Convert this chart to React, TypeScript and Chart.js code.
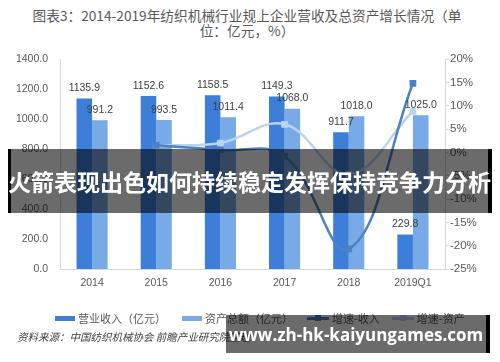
import React, { useEffect, useRef } from "react";
import { Chart, registerables } from "chart.js";

Chart.register(...registerables);

const categories = ["2014", "2015", "2016", "2017", "2018", "2019Q1"];
const revenue = [1135.9, 1152.6, 1158.5, 1149.3, 911.7, 229.8];
const assets = [991.2, 993.5, 1011.4, 1068.0, 1018.0, 1025.0];
const revenueGrowth = [null, 1.5, 0.5, -0.8, -20.7, 14.8];
const assetGrowth = [null, 1.5, 2.0, 6.0, -4.7, 8.8];

const leftMin = 0;
const leftMax = 1400;
const leftStep = 200;
const rightMin = -25;
const rightMax = 20;
const rightStep = 5;

const seriesNames = ["营业收入（亿元）", "资产总额（亿元）", "增速-收入", "增速-资产"];
const titleLines = ["图表3：2014-2019年纺织机械行业规上企业营收及总资产增长情况（单", "位：亿元，%）"];
const sourceText = "资料来源：中国纺织机械协会 前瞻产业研究院整理";
const bannerText = "火箭表现出色如何持续稳定发挥保持竞争力分析";
const urlText = "www.zh-hk-kaiyungames.com";

const C_REV = "#3d7ed9";
const C_AST = "#79aae8";
const C_REVG = "#4f81c2";
const C_ASTG = "#b9d3f1";

const NUM_FONT = '"Liberation Sans", "Noto Sans CJK SC", sans-serif';
const CJK_FONT = '"Noto Sans CJK SC", sans-serif';

const barLabels = {
  id: "barLabels",
  afterDatasetsDraw(chart: any) {
    const ctx = chart.ctx;
    chart.data.datasets.forEach((ds: any, i: number) => {
      const meta = chart.getDatasetMeta(i);
      if (meta.type !== "bar") return;
      meta.data.forEach((el: any, j: number) => {
        const v = ds.data[j];
        if (v == null) return;
        ctx.save();
        ctx.font = `10.5px ${NUM_FONT}`;
        ctx.fillStyle = "#404040";
        ctx.textAlign = "center";
        ctx.textBaseline = "bottom";
        ctx.fillText(Number(v).toFixed(1), el.x, el.y - 5);
        ctx.restore();
      });
    });
  },
};

function App() {
  const ref = useRef<HTMLCanvasElement | null>(null);

  useEffect(() => {
    if (!ref.current) return;
    const chart = new Chart(ref.current, {
      type: "bar",
      data: {
        labels: categories,
        datasets: [
          {
            type: "line",
            label: seriesNames[2],
            data: revenueGrowth,
            yAxisID: "y1",
            borderColor: C_REVG,
            backgroundColor: C_REVG,
            borderWidth: 2.5,
            pointStyle: "rect",
            pointRadius: 3,
            tension: 0.4,
            order: 1,
          } as any,
          {
            type: "line",
            label: seriesNames[3],
            data: assetGrowth,
            yAxisID: "y1",
            borderColor: C_ASTG,
            backgroundColor: C_ASTG,
            borderWidth: 2.5,
            pointStyle: "rect",
            pointRadius: 3,
            tension: 0.4,
            order: 1,
          } as any,
          {
            type: "bar",
            label: seriesNames[0],
            data: revenue,
            yAxisID: "y",
            backgroundColor: C_REV,
            barPercentage: 1.0,
            categoryPercentage: 0.485,
            order: 2,
          },
          {
            type: "bar",
            label: seriesNames[1],
            data: assets,
            yAxisID: "y",
            backgroundColor: C_AST,
            barPercentage: 1.0,
            categoryPercentage: 0.485,
            order: 2,
          },
        ],
      },
      options: {
        animation: false,
        responsive: false,
        maintainAspectRatio: false,
        layout: { padding: { top: 59, left: 0, right: 0, bottom: 0 } },
        plugins: {
          legend: { display: false },
          title: { display: false },
          tooltip: { enabled: false },
        },
        scales: {
          x: {
            afterFit: (s: any) => {
              s.height = 93;
            },
            grid: { display: false, drawTicks: false },
            border: { display: true, color: "#d9d9d9", width: 1 },
            ticks: {
              padding: 8,
              color: "#595959",
              font: { size: 10.5, family: NUM_FONT },
            },
          },
          y: {
            position: "left",
            min: leftMin,
            max: leftMax,
            afterFit: (s: any) => {
              s.width = 60;
            },
            grid: { display: false, drawTicks: false, tickLength: 0 },
            border: { display: true, color: "#d9d9d9", width: 1 },
            ticks: {
              stepSize: leftStep,
              padding: 12,
              color: "#595959",
              font: { size: 10.5, family: NUM_FONT },
              callback: (v: any) => Number(v).toFixed(1),
            },
          },
          y1: {
            position: "right",
            min: rightMin,
            max: rightMax,
            afterFit: (s: any) => {
              s.width = 55;
            },
            grid: {
              display: true,
              drawOnChartArea: false,
              drawTicks: true,
              tickLength: 4,
              color: "#d9d9d9",
            },
            border: { display: true, color: "#d9d9d9", width: 1 },
            ticks: {
              stepSize: rightStep,
              padding: 1,
              color: "#595959",
              font: { size: 11.5, family: NUM_FONT },
              callback: (v: any) => `${v}%`,
            },
          },
        },
      },
      plugins: [barLabels],
    } as any);
    return () => chart.destroy();
  }, []);

  const legendBox = (color: string) => (
    <span style={{ display: "inline-block", width: 20, height: 5, background: color, marginRight: 3 }} />
  );
  const legendLine = (color: string) => (
    <span style={{ position: "relative", display: "inline-block", width: 22, height: 8, marginRight: 3 }}>
      <span style={{ position: "absolute", left: 0, right: 0, top: 3, height: 2.5, background: color }} />
      <span style={{ position: "absolute", left: 8, top: 1, width: 6, height: 6, background: color }} />
    </span>
  );
  const legendText: React.CSSProperties = { fontSize: 11, color: "#595959", fontFamily: CJK_FONT, whiteSpace: "nowrap" };

  return (
    <div style={{ position: "absolute", left: 0, top: 0, width: 500, height: 362, background: "#fff", overflow: "hidden" }}>
      <div
        style={{
          position: "absolute",
          left: 0,
          top: 8,
          width: 494,
          textAlign: "center",
          fontFamily: CJK_FONT,
          fontSize: 13.7,
          lineHeight: "15px",
          color: "#595959",
          whiteSpace: "nowrap",
        }}
      >
        {titleLines[0]}
        <br />
        {titleLines[1]}
      </div>
      <canvas ref={ref} width={500} height={362} style={{ position: "absolute", left: 0, top: 0, width: 500, height: 362 }} />
      <div
        style={{
          position: "absolute",
          left: 55,
          top: 311,
          height: 14,
          display: "flex",
          alignItems: "center",
        }}
      >
        <span style={{ display: "flex", alignItems: "center", marginRight: 16 }}>
          {legendBox(C_REV)}
          <span style={legendText}>{seriesNames[0]}</span>
        </span>
        <span style={{ display: "flex", alignItems: "center", marginRight: 14 }}>
          {legendBox(C_AST)}
          <span style={legendText}>{seriesNames[1]}</span>
        </span>
        <span style={{ display: "flex", alignItems: "center", marginRight: 12 }}>
          {legendLine(C_REVG)}
          <span style={legendText}>{seriesNames[2]}</span>
        </span>
        <span style={{ display: "flex", alignItems: "center" }}>
          {legendLine(C_ASTG)}
          <span style={legendText}>{seriesNames[3]}</span>
        </span>
      </div>
      <div
        style={{
          position: "absolute",
          left: 17,
          top: 330,
          fontFamily: CJK_FONT,
          fontSize: 10.5,
          fontStyle: "italic",
          color: "#404040",
          whiteSpace: "nowrap",
          lineHeight: "14px",
        }}
      >
        {sourceText}
      </div>
      <div
        style={{
          position: "absolute",
          left: 8,
          top: 149,
          width: 484,
          height: 64,
          boxSizing: "border-box",
          background: "rgba(0,0,0,0.58)",
          borderLeft: "3px solid #000",
          borderRight: "4px solid #000",
          display: "flex",
          alignItems: "center",
          justifyContent: "center",
          color: "#fff",
          fontFamily: CJK_FONT,
          fontWeight: 700,
          fontSize: 23,
          whiteSpace: "nowrap",
        }}
      >
        {bannerText}
      </div>
      <div
        style={{
          position: "absolute",
          left: 226,
          top: 315,
          width: 264,
          height: 38,
          boxSizing: "border-box",
          background: "rgba(0,0,0,0.58)",
          borderRight: "4px solid #000",
          display: "flex",
          alignItems: "center",
          justifyContent: "center",
          color: "#fff",
          fontFamily: '"Open Sans", "DejaVu Sans", sans-serif',
          fontWeight: 700,
          fontSize: 17,
          whiteSpace: "nowrap",
        }}
      >
        {urlText}
      </div>
    </div>
  );
}

export default App;
